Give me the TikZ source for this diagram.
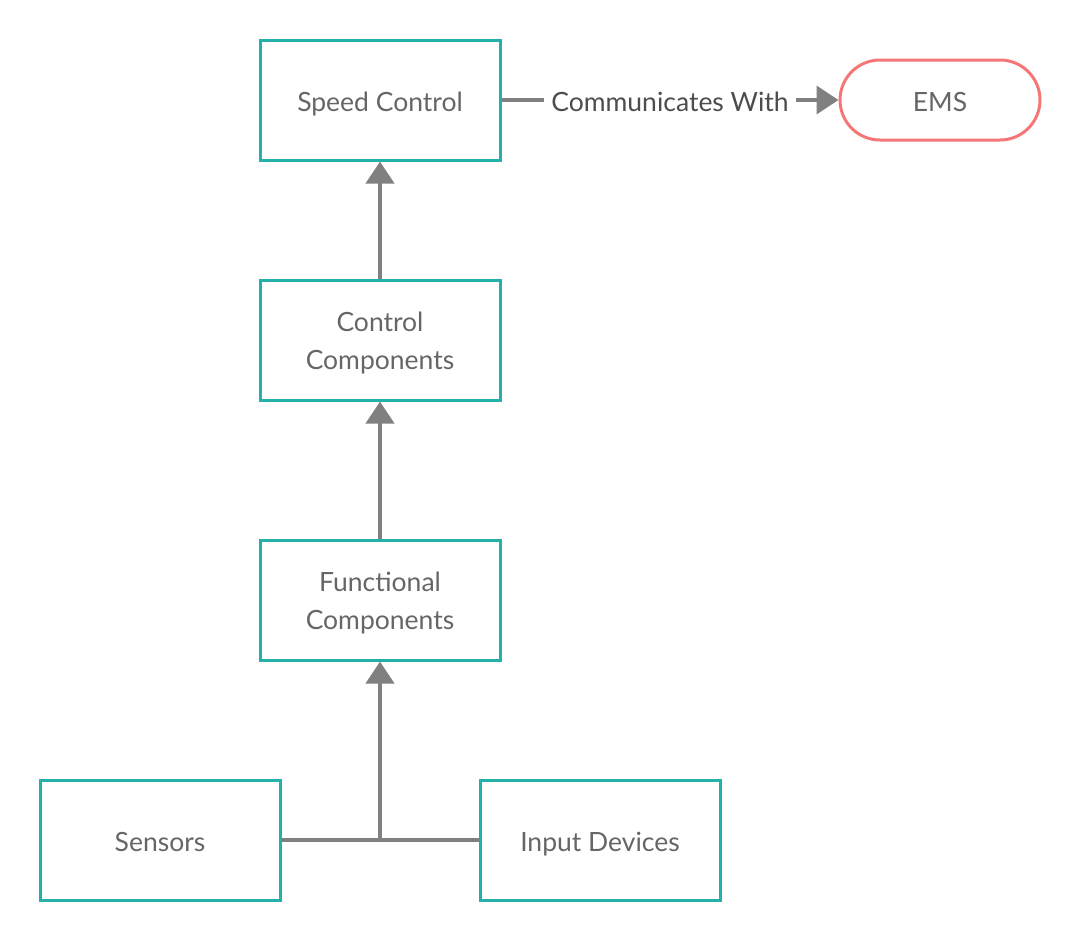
\documentclass[tikz,border=0pt]{standalone}
\usepackage{fontspec}
\setmainfont{Lato}
\usepackage{xcolor}
\usetikzlibrary{arrows.meta, calc}

\definecolor{boxteal}{HTML}{26B0AA}
\definecolor{pillred}{HTML}{F47676}
\definecolor{linegray}{HTML}{808080}
\definecolor{textgray}{HTML}{666666}
\definecolor{labelgray}{HTML}{4D4D4D}

\tikzset{
  block/.style={draw=boxteal, line width=3pt, rectangle, minimum width=240pt,
    minimum height=120pt, align=center, text=textgray,
    font=\fontsize{26.5}{38}\selectfont},
  oneline/.style={text height=23pt, text depth=0pt},
  twoline/.style={text height=58pt, text depth=0pt},
  pill/.style={draw=pillred, line width=3pt, rectangle, rounded corners=40pt,
    minimum width=200pt, minimum height=80pt, text=textgray, oneline,
    font=\fontsize{26.5}{38}\selectfont},
  link/.style={draw=linegray, line width=4pt},
  linklabel/.style={fill=white, inner xsep=7pt, text=labelgray, oneline,
    font=\fontsize{26.5}{38}\selectfont}
}

\begin{document}
\begin{tikzpicture}[x=1pt, y=1pt, >={Triangle[length=22pt, width=28pt]}]
  \useasboundingbox (0, 0) rectangle (1080, -940);

  % Main chain of boxes (centre column)
  \node[block, oneline] (speed) at (380, -100) {Speed Control};
  \node[block, twoline] (control) at (380, -340) {Control\\Components};
  \node[block, twoline] (functional) at (380, -600) {Functional\\Components};

  % Inputs at the bottom
  \node[block, oneline] (sensors) at (160, -840) {Sensors};
  \node[block, oneline] (inputdev) at (600, -840) {Input Devices};

  % External system
  \node[pill] (ems) at (940, -100) {EMS};

  % Upward arrows
  \draw[link, ->] (control) -- (speed);
  \draw[link, ->] (functional) -- (control);

  % Join of the two inputs
  \coordinate (join) at (sensors.east -| functional.south);
  \draw[link] (sensors.east) -- (inputdev.west);
  \draw[link, ->] (join) -- (functional.south);

  % Speed Control talks to the EMS
  \draw[link, ->] (speed.east) -- (ems.west)
    node[midway, linklabel] {Communicates With};
\end{tikzpicture}
\end{document}
